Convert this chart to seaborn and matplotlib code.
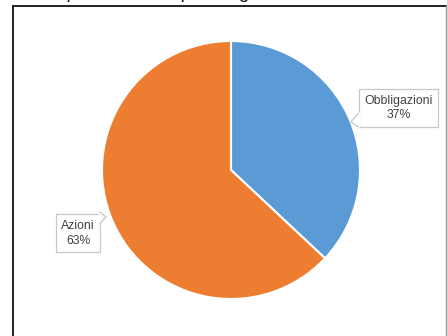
import matplotlib
matplotlib.use("Agg")
import matplotlib.pyplot as plt
import seaborn as sns
from matplotlib.lines import Line2D

# Portfolio composition
categories = ["Obbligazioni", "Azioni"]
shares = [37, 63]
colors = ["#5B9BD5", "#ED7D31"]
title = "Composizione del portafoglio"

sns.set_style("white")
plt.rcParams["font.family"] = ["Liberation Sans", "DejaVu Sans"]

W, H = 447, 336
fig = plt.figure(figsize=(W / 100, H / 100), dpi=100)


def px(x, y):
    """Pixel position (from top-left) to figure fraction."""
    return x / W, 1 - y / H


# chart frame (open at the bottom)
fx0, fx1, fy0 = 12.5 / W, 445.5 / W, 1 - 5.5 / H
fig.add_artist(Line2D([fx0, fx0], [0, fy0], color="#111111", lw=1.3, transform=fig.transFigure))
fig.add_artist(Line2D([fx0, fx1], [fy0, fy0], color="#111111", lw=1.3, transform=fig.transFigure))
fig.add_artist(Line2D([fx1, fx1], [0, fy0], color="#9a9a9a", lw=1.0, transform=fig.transFigure))

# title sits mostly above the canvas
fig.text(27 / W, 1 + 2.2 / H, title, fontsize=13.5, color="#111111",
         ha="left", va="baseline")

cx, cy, r = 231, 170, 129
ax = fig.add_axes([(cx - r) / W, (H - cy - r) / H, 2 * r / W, 2 * r / H])
wedges, _ = ax.pie(shares, colors=colors, startangle=90, counterclock=False,
                   radius=1.0, wedgeprops=dict(edgecolor="white", linewidth=1.5))
ax.set_xlim(-1, 1)
ax.set_ylim(-1, 1)
ax.set_aspect("equal")
ax.axis("off")

# callout labels
label_pos = {"Obbligazioni": (1.30, 0.48), "Azioni": (-1.185, -0.49)}
for name, val in zip(categories, shares):
    lx, ly = label_pos[name]
    ax.text(lx, ly, f"{name}\n{val}%", ha="center", va="center", fontsize=8.8,
            color="#404040", linespacing=1.3, clip_on=False, zorder=3,
            bbox=dict(boxstyle="square,pad=0.45", fc="white", ec="#c8c8c8", lw=0.9))

# callout pointers (white fill covers the box edge behind the notch)
pointers = [[(358.5, 113), (351, 122), (358.5, 127)],
            [(99.5, 212), (106, 217), (99.5, 224)]]
for pts in pointers:
    xs, ys = zip(*(px(x, y) for x, y in pts))
    fig.add_artist(Line2D([xs[0], xs[2]], [ys[0], ys[2]], color="white", lw=1.6,
                          transform=fig.transFigure, zorder=4))
    fig.add_artist(Line2D(xs, ys, color="#c8c8c8", lw=0.9,
                          transform=fig.transFigure, zorder=5))

fig.savefig("out.png", dpi=100)
